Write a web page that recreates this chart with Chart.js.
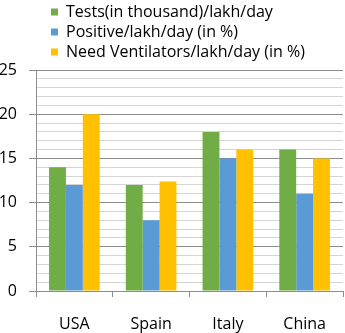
<!DOCTYPE html>
<html>
<head>
<meta charset="utf-8">
<script src="https://cdn.jsdelivr.net/npm/chart.js@4"></script>
<style>
  html, body { margin: 0; padding: 0; background: #fff; }
  #wrap { position: relative; width: 345px; height: 333px; }
</style>
</head>
<body>
<div id="wrap"><canvas id="chart-covid"></canvas></div>
<script>
const countries = ['USA', 'Spain', 'Italy', 'China'];
const tests = [14, 12, 18, 16];
const positive = [12, 8, 15, 11];
const ventilators = [20, 12.4, 16, 15];
const seriesNames = ['Tests(in thousand)/lakh/day', 'Positive/lakh/day (in %)', 'Need Ventilators/lakh/day (in %)'];

const FONT = 'Open Sans';
const MAJOR = '#8c8c8c';
const MINOR = '#d4d4d4';

// legend rows start a bit in from the left edge
const legendShift = {
  id: 'legendShift',
  afterLayout(chart) {
    if (chart.legend) chart.legend.left = 47;
  }
};

let ctx = document.getElementById('chart-covid').getContext('2d');
window.covidBar = new Chart(ctx, {
  type: 'bar',
  data: {
    labels: countries,
    datasets: [
      { label: seriesNames[0], data: tests, backgroundColor: '#70ad47' },
      { label: seriesNames[1], data: positive, backgroundColor: '#5b9bd5' },
      { label: seriesNames[2], data: ventilators, backgroundColor: '#ffc000' }
    ]
  },
  options: {
    responsive: true,
    maintainAspectRatio: false,
    animation: false,
    layout: { padding: { top: 0, right: 2, left: 0, bottom: 0 } },
    datasets: { bar: { categoryPercentage: 0.66, barPercentage: 1 } },
    plugins: {
      tooltip: { enabled: false },
      legend: {
        position: 'top',
        align: 'start',
        labels: {
          boxWidth: 7,
          boxHeight: 7,
          padding: 4,
          color: '#000',
          font: { family: FONT, size: 16, lineHeight: 1.2 }
        }
      }
    },
    scales: {
      x: {
        offset: true,
        afterFit: s => { s.height = 42; },
        border: { color: MAJOR },
        grid: { offset: true, drawOnChartArea: false, drawTicks: true, tickLength: 6, color: MAJOR },
        ticks: { color: '#000', padding: 18, font: { family: FONT, size: 16 } }
      },
      y: {
        min: 0,
        max: 25,
        afterFit: s => { s.width = 36; },
        border: { color: MAJOR },
        grid: {
          tickLength: 7,
          color: c => (c.tick && c.tick.value % 5 === 0) ? MAJOR : MINOR,
          tickColor: c => (c.tick && c.tick.value % 5 === 0) ? MAJOR : 'rgba(0,0,0,0)'
        },
        ticks: {
          stepSize: 1,
          autoSkip: false,
          padding: 12,
          color: '#000',
          font: { family: FONT, size: 16 },
          callback: v => (v % 5 === 0 ? v : '')
        }
      }
    }
  },
  plugins: [legendShift]
});
</script>
</body>
</html>
